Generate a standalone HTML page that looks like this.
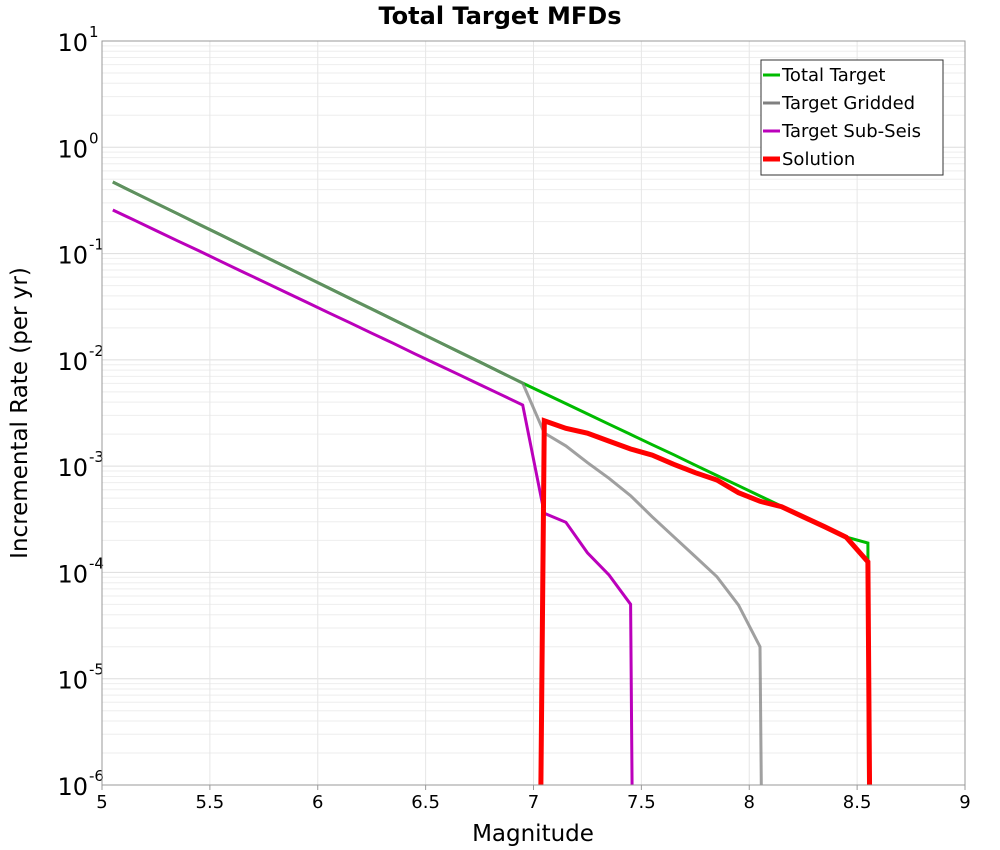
<!DOCTYPE html>
<html><head><meta charset="utf-8"><style>
html,body{margin:0;padding:0;background:#fff;width:1000px;height:850px;overflow:hidden;font-family:"Liberation Sans","DejaVu Sans",sans-serif}
svg{display:block}
</style></head><body>
<svg id="chart" width="1000" height="850" xmlns="http://www.w3.org/2000/svg" font-family="DejaVu Sans, Liberation Sans, sans-serif">
<text x="500" y="24" text-anchor="middle" font-size="24" font-weight="bold">Total Target MFDs</text>
<g id="grid"></g>
<g id="ticks"></g>
<defs><clipPath id="clip"><rect x="102" y="41" width="863" height="744"/></clipPath></defs>
<g id="series" clip-path="url(#clip)"></g>
<rect x="102" y="41" width="863" height="744" fill="none" stroke="#999" stroke-width="1"/>
<text x="533" y="841" text-anchor="middle" font-size="23">Magnitude</text>
<text transform="translate(27,413) rotate(-90)" text-anchor="middle" font-size="23">Incremental Rate (per yr)</text>
<g id="legend">
<rect x="761" y="60" width="182" height="115" fill="#fff" stroke="#333" stroke-width="1"/>
</g>
</svg>
<script>
const xTicks=[5,5.5,6,6.5,7,7.5,8,8.5,9];
const xTickLabels=["5","5.5","6","6.5","7","7.5","8","8.5","9"];
const yDecades=[1,0,-1,-2,-3,-4,-5,-6];
const totalMags=[5.05,5.15,5.25,5.35,5.45,5.55,5.65,5.75,5.85,5.95,6.05,6.15,6.25,6.35,6.45,6.55,6.65,6.75,6.85,6.95,7.05,7.15,7.25,7.35,7.45,7.55,7.65,7.75,7.85,7.95,8.05,8.15,8.25,8.35,8.45,8.55,8.555];
const totalRates=[0.471,0.374,0.298,0.237,0.188,0.150,0.119,0.0946,0.0753,0.0598,0.0475,0.0378,0.0301,0.0239,0.0190,0.0151,0.0120,0.00957,0.00760,0.00605,0.00484,0.00388,0.00310,0.00248,0.00199,0.00159,0.00128,0.00102,0.000817,0.000655,0.000524,0.000420,0.000336,0.000269,0.000215,0.000189,1e-8];
const griddedMags=[5.05,5.15,5.25,5.35,5.45,5.55,5.65,5.75,5.85,5.95,6.05,6.15,6.25,6.35,6.45,6.55,6.65,6.75,6.85,6.95,7.05,7.15,7.25,7.35,7.45,7.55,7.65,7.75,7.85,7.95,8.05,8.065];
const griddedRates=[0.471,0.374,0.298,0.237,0.188,0.150,0.119,0.0946,0.0753,0.0598,0.0475,0.0378,0.0301,0.0239,0.0190,0.0151,0.0120,0.00957,0.00760,0.00605,0.00205,0.00155,0.00108,0.000769,0.000527,0.000334,0.000217,0.000141,0.0000912,0.0000493,0.0000200,1e-8];
const subMags=[5.05,5.15,5.25,5.35,5.45,5.55,5.65,5.75,5.85,5.95,6.05,6.15,6.25,6.35,6.45,6.55,6.65,6.75,6.85,6.95,7.05,7.15,7.25,7.35,7.45,7.465];
const subRates=[0.257,0.206,0.165,0.132,0.106,0.0845,0.0677,0.0542,0.0434,0.0347,0.0278,0.0223,0.0178,0.0143,0.0114,0.00915,0.00733,0.00586,0.00470,0.00376,0.000360,0.000296,0.000153,0.0000946,0.0000501,1e-8];
const solMags=[7.025,7.05,7.15,7.25,7.35,7.45,7.55,7.65,7.75,7.85,7.95,8.05,8.15,8.25,8.35,8.45,8.55,8.565];
const solRates=[1e-8,0.00267,0.00227,0.00204,0.00172,0.00145,0.00127,0.00104,0.000867,0.000741,0.000562,0.000467,0.000415,0.000334,0.000269,0.000214,0.000126,1e-8];
const legendNames=["Total Target","Target Gridded","Target Sub-Seis","Solution"];

const NS="http://www.w3.org/2000/svg";
const X0=102,X1=965,Y0=785,Y1=41;
function xs(m){return X0+(m-5)/4*(X1-X0);}
function ys(v){return Y0-(Math.log10(v)+6)/7*(Y0-Y1);}
function mk(tag,attrs,parent){const e=document.createElementNS(NS,tag);for(const k in attrs)e.setAttribute(k,attrs[k]);parent.appendChild(e);return e;}
const grid=document.getElementById('grid'),ticks=document.getElementById('ticks'),series=document.getElementById('series'),legend=document.getElementById('legend');
for(let d=-6;d<1;d++){for(let k=1;k<10;k++){const y=ys(k*Math.pow(10,d));
const l=mk('line',{x1:X0,x2:X1,y1:y,y2:y,stroke:k==1?'#ddd':'#eee','stroke-width':1},grid);

}}
xTicks.forEach((t,i)=>{const x=xs(t);
const l=mk('line',{x1:x,x2:x,y1:Y1,y2:Y0,stroke:'#e6e6e6','stroke-width':1},grid);


const tk=mk('line',{x1:x,x2:x,y1:Y0,y2:Y0+5,stroke:'#999'},ticks);


const tx=mk('text',{x:x,y:808,'text-anchor':'middle','font-size':18},ticks);tx.textContent=xTickLabels[i];

});
yDecades.forEach(d=>{const y=ys(Math.pow(10,d));
const t=mk('text',{x:88,y:y+10,'text-anchor':'end','font-size':24},ticks);


t.textContent='10';
const s=mk('text',{x:89,y:y-4,'text-anchor':'start','font-size':15},ticks);s.textContent=String(d);

});
function line(mags,rates,color,w,name,op){
const pts=mags.map((m,i)=>xs(m).toFixed(1)+','+ys(rates[i]).toFixed(1)).join(' ');
const p=mk('polyline',{points:pts,fill:'none',stroke:color,'stroke-width':w,'stroke-linejoin':'miter','stroke-opacity':op},series);

}
line(totalMags,totalRates,'#00bb00',3,'total-target-line',1);
line(griddedMags,griddedRates,'#808080',3,'target-gridded-line',0.75);
line(subMags,subRates,'#bb00bb',3,'target-sub-seis-line',1);
line(solMags,solRates,'#ff0000',5,'solution-line',1);
const lc=['#00bb00','#808080','#bb00bb','#ff0000'],lw=[3,3,3,5];
legendNames.forEach((n,i)=>{const y=75+i*28;
const l=mk('line',{x1:763,x2:780,y1:y,y2:y,stroke:lc[i],'stroke-width':lw[i]},legend);


const t=mk('text',{x:782,y:y+6,'font-size':18},legend);t.textContent=n;

});
</script>
</body></html>
